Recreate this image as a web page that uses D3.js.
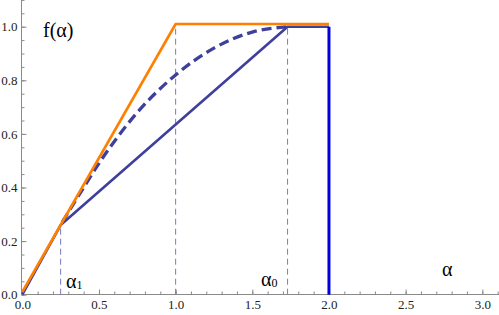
<!DOCTYPE html>
<html>
<head>
<meta charset="utf-8">
<script src="https://cdn.jsdelivr.net/npm/d3@7"></script>
<style>
  body { margin: 0; background: #fff; }
  svg { display: block; }
  text { font-family: "Liberation Serif", "Times New Roman", serif; }
</style>
</head>
<body>
<div id="chart"></div>
<script>
// upper bound f(alpha), orange
var upperX = [0, 1.0, 2.0],
    upperY = [0.01, 1.01, 1.01];

// piecewise linear f(alpha)
var solidX = [0, 0.25, 1.73, 2.0],
    solidY = [0, 0.26, 1.0, 1.0];

// drop at alpha = 2
var dropX = [2.0, 2.0],
    dropY = [1.0, 0];

// dashed curve
var curveX = [0.26, 0.4, 0.5, 0.75, 1.0, 1.25, 1.5, 1.73],
    curveY = [0.27, 0.4, 0.49, 0.68, 0.82, 0.92, 0.98, 1.0];

// thin dashed guides
var guideX = [0.25, 1.0, 1.73],
    guideTop = [0.26, 1.01, 1.0];

var xTicks = [0, 0.5, 1.0, 1.5, 2.0, 2.5, 3.0],
    yTicks = [0, 0.2, 0.4, 0.6, 0.8, 1.0];

var w = 499,
    h = 315;

var serif = "Liberation Serif";

var x = d3.scaleLinear().domain([0, 3.0]).range([22.3, 482.3]);
var y = d3.scaleLinear().domain([0, 1.0]).range([294.7, 26.7]);

var svg = d3.select("#chart")
    .append("svg")
    .attr("width", w)
    .attr("height", h);

var axisColor = "#8a8a8a";

// minor ticks first
var xMinor = d3.range(0, 3.11, 0.1);
var yMinor = d3.range(0, 1.101, 0.05);

svg.append("g")
    .attr("transform", "translate(0," + 294.5 + ")")
    .call(d3.axisBottom(x).tickValues(xMinor).tickSize(-3).tickFormat(""))
    .call(function(g) { g.select(".domain").remove(); })
    .selectAll("line").attr("stroke", axisColor);

svg.append("g")
    .attr("transform", "translate(" + 21.5 + ",0)")
    .call(d3.axisLeft(y).tickValues(yMinor).tickSize(-3).tickFormat(""))
    .call(function(g) { g.select(".domain").remove(); })
    .selectAll("line").attr("stroke", axisColor);

// major ticks + labels
var gx = svg.append("g")
    .attr("transform", "translate(0," + 294.5 + ")")
    .call(d3.axisBottom(x).tickValues(xTicks).tickSize(-5).tickPadding(5)
        .tickFormat(d3.format(".1f")))
    .attr("font-family", serif)
    .attr("font-size", 13);
gx.select(".domain").remove();
gx.selectAll("line").attr("stroke", axisColor);

var gy = svg.append("g")
    .attr("transform", "translate(" + 21.5 + ",0)")
    .call(d3.axisLeft(y).tickValues(yTicks).tickSize(-5).tickPadding(4)
        .tickFormat(d3.format(".1f")))
    .attr("font-family", serif)
    .attr("font-size", 13);
gy.select(".domain").remove();
gy.selectAll("line").attr("stroke", axisColor);

svg.selectAll(".tick text").attr("fill", "#222");

// axis lines
svg.append("line")
    .attr("x1", 21.5).attr("x2", w)
    .attr("y1", 294.5).attr("y2", 294.5)
    .attr("stroke", axisColor);
svg.append("line")
    .attr("x1", 21.5).attr("x2", 21.5)
    .attr("y1", 0).attr("y2", 294.5)
    .attr("stroke", axisColor);

function pts(xs, ys) {
    return xs.map(function(v, i) { return [v, ys[i]]; });
}

var line = d3.line()
    .x(function(d) { return x(d[0]); })
    .y(function(d) { return y(d[1]); });

// guides
svg.selectAll(".guide")
    .data(pts(guideX, guideTop))
    .enter()
    .append("line")
    .attr("class", "guide")
    .attr("x1", function(d) { return x(d[0]); })
    .attr("x2", function(d) { return x(d[0]); })
    .attr("y1", y(0))
    .attr("y2", function(d) { return y(d[1]); })
    .attr("stroke", "#7a7ac4")
    .attr("stroke-width", 1)
    .attr("stroke-dasharray", "6,4");

var slate = "#3f3f9c";

// solid blue
svg.append("path")
    .attr("d", line(pts(solidX, solidY)))
    .attr("fill", "none")
    .attr("stroke", slate)
    .attr("stroke-width", 2.6)
    .attr("stroke-linejoin", "round");

// dashed curve
svg.append("path")
    .attr("d", line.curve(d3.curveMonotoneX)(pts(curveX, curveY)))
    .attr("fill", "none")
    .attr("stroke", slate)
    .attr("stroke-width", 3.3)
    .attr("stroke-dasharray", "10,5");
line.curve(d3.curveLinear);

// orange
svg.append("path")
    .attr("d", line(pts(upperX, upperY)))
    .attr("fill", "none")
    .attr("stroke", "#ff8000")
    .attr("stroke-width", 2.6)
    .attr("stroke-linejoin", "round");

// drop
svg.append("path")
    .attr("d", line(pts(dropX, dropY)))
    .attr("fill", "none")
    .attr("stroke", "#0000d8")
    .attr("stroke-width", 3);

// labels
svg.append("text")
    .attr("x", 43).attr("y", 37)
    .attr("font-family", serif)
    .attr("font-size", 20)
    .text("f(α)");

function alphaLabel(px, py, sub) {
    var t = svg.append("text")
        .attr("x", px).attr("y", py)
        .attr("font-family", serif)
        .attr("font-size", 20)
        .text("α");
    if (sub) {
        t.append("tspan")
            .attr("dy", 1)
            .attr("font-size", 12)
            .text(sub);
    }
}

alphaLabel(66, 288, "1");
alphaLabel(261, 286, "0");
alphaLabel(442, 276, null);
</script>
</body>
</html>
